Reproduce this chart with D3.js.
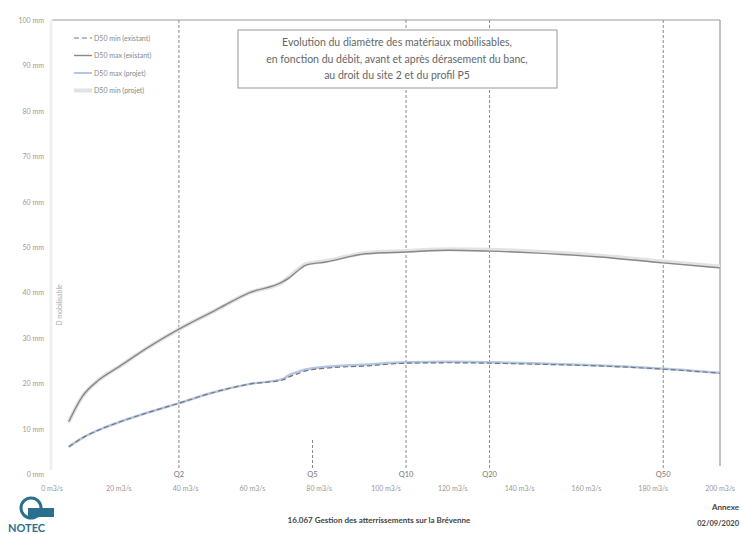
<!DOCTYPE html>
<html>
<head>
<meta charset="utf-8">
<script src="https://cdn.jsdelivr.net/npm/d3@7"></script>
<style>
  body { margin: 0; background: #fff; }
  svg { display: block; font-family: Lato, "Open Sans", sans-serif; }
</style>
</head>
<body>
<div id="chart"></div>
<script>
// debits (m3/s) shared by every curve
var debits = [5, 9, 14, 20, 29, 38, 49, 59, 69, 71, 74, 76, 82, 94, 106, 119, 131, 144, 164, 183, 200];

// D50 (mm)
var maxExistant = [11.5, 17.0, 20.7, 23.6, 28.0, 31.9, 36.1, 39.9, 42.3, 43.2, 45.0, 46.0, 46.7, 48.5, 48.9, 49.3, 49.1, 48.7, 47.8, 46.5, 45.4];
var minProjet   = [11.5, 17.0, 20.7, 23.6, 28.0, 31.9, 36.1, 39.9, 42.3, 43.4, 45.3, 46.2, 46.9, 48.7, 49.1, 49.5, 49.4, 49.0, 48.1, 46.8, 45.7];
var minExistant = [6.0, 7.9, 9.7, 11.4, 13.6, 15.6, 18.1, 19.8, 20.7, 21.4, 22.2, 22.7, 23.3, 23.8, 24.4, 24.5, 24.4, 24.2, 23.8, 23.1, 22.2];
var maxProjet   = [6.0, 7.9, 9.7, 11.4, 13.6, 15.6, 18.1, 19.8, 20.9, 21.8, 22.6, 23.0, 23.6, 24.1, 24.6, 24.7, 24.6, 24.4, 23.9, 23.2, 22.3];

// periodes de retour
var crueNames = ['Q2', 'Q5', 'Q10', 'Q20', 'Q50'];
var crueDebits = [38, 78, 106, 131, 183];

var yTicks = [0, 10, 20, 30, 40, 50, 60, 70, 80, 90, 100];
var xTicks = [0, 20, 40, 60, 80, 100, 120, 140, 160, 180, 200];

var legendLabels = ['D50 min (existant)', 'D50 max (existant)', 'D50 max (projet)', 'D50 min (projet)'];
var titleLines = [
  'Evolution du diamètre des matériaux mobilisables,',
  'en fonction du débit, avant et après dérasement du banc,',
  'au droit du site 2 et du profil P5'
];

var W = 741, H = 534;
var svg = d3.select('#chart').append('svg').attr('width', W).attr('height', H);

var x = d3.scaleLinear().domain([0, 200]).range([52, 720]);
var y = d3.scaleLinear().domain([0, 100]).range([474, 20]);

// plot frame (top and right, faint left)
svg.append('line').attr('x1', x(0)).attr('x2', x(200)).attr('y1', y(100)).attr('y2', y(100))
  .attr('stroke', '#999').attr('stroke-width', 1);
svg.append('line').attr('x1', x(200)).attr('x2', x(200)).attr('y1', y(100)).attr('y2', 466)
  .attr('stroke', '#999').attr('stroke-width', 1.2);
svg.append('line').attr('x1', x(0) - 1).attr('x2', x(0) - 1).attr('y1', y(100)).attr('y2', 470)
  .attr('stroke', '#f0f0f0').attr('stroke-width', 3);

// y labels
svg.selectAll('.ylab').data(yTicks).enter().append('text')
  .attr('x', 44).attr('y', function(d) { return y(d) + 3; })
  .attr('text-anchor', 'end').attr('font-size', 7).attr('fill', '#999')
  .text(function(d) { return d + ' mm'; });

// x labels
svg.selectAll('.xlab').data(xTicks).enter().append('text')
  .attr('x', function(d) { return x(d); }).attr('y', 491)
  .attr('text-anchor', 'middle').attr('font-size', 7).attr('fill', '#999')
  .text(function(d) { return d + ' m3/s'; });

// crue lines
svg.selectAll('.crue').data(crueDebits).enter().append('line')
  .attr('x1', function(d) { return x(d); }).attr('x2', function(d) { return x(d); })
  .attr('y1', function(d, i) { return i == 1 ? 440 : y(100); })
  .attr('y2', 468)
  .attr('stroke', '#8a8a8a').attr('stroke-width', 1).attr('stroke-dasharray', '3,2');

svg.selectAll('.crueLab').data(crueNames).enter().append('text')
  .attr('x', function(d, i) { return x(crueDebits[i]); }).attr('y', 477)
  .attr('text-anchor', 'middle').attr('font-size', 7.5).attr('fill', '#777')
  .text(function(d) { return d; });

// y axis title
svg.append('text').attr('transform', 'translate(62,305) rotate(-90)')
  .attr('text-anchor', 'middle').attr('font-size', 7).attr('fill', '#aaa')
  .text('D mobilisable');

var line = d3.line().curve(d3.curveMonotoneX)
  .x(function(d) { return x(d[0]); })
  .y(function(d) { return y(d[1]); });

function pts(vals) {
  return debits.map(function(d, i) { return [d, vals[i]]; });
}

svg.append('path').attr('d', line(pts(minProjet))).attr('fill', 'none')
  .attr('stroke', '#e2e2e2').attr('stroke-width', 4);
svg.append('path').attr('d', line(pts(maxExistant))).attr('fill', 'none')
  .attr('stroke', '#888').attr('stroke-width', 1.4);
svg.append('path').attr('d', line(pts(maxProjet))).attr('fill', 'none')
  .attr('stroke', '#b3c6e4').attr('stroke-width', 2.5);
svg.append('path').attr('d', line(pts(minExistant))).attr('fill', 'none')
  .attr('stroke', '#777').attr('stroke-width', 1.2).attr('stroke-dasharray', '5,3');

// legend
var legendStyles = [
  { stroke: '#777', w: 1.2, dash: '5,3' },
  { stroke: '#888', w: 1.4, dash: null },
  { stroke: '#b3c6e4', w: 2, dash: null },
  { stroke: '#e2e2e2', w: 4, dash: null }
];
var lg = svg.selectAll('.lg').data(legendLabels).enter().append('g')
  .attr('transform', function(d, i) { return 'translate(72,' + (38 + i * 17.5) + ')'; });
lg.append('line').attr('x1', 2).attr('x2', 20).attr('y1', 0).attr('y2', 0)
  .attr('stroke', function(d, i) { return legendStyles[i].stroke; })
  .attr('stroke-width', function(d, i) { return legendStyles[i].w; })
  .attr('stroke-dasharray', function(d, i) { return legendStyles[i].dash; });
lg.append('text').attr('x', 22).attr('y', 2.5).attr('font-size', 7).attr('fill', '#888')
  .text(function(d) { return d; });

// title box
svg.append('rect').attr('x', 238).attr('y', 30).attr('width', 319).attr('height', 58)
  .attr('fill', '#fff').attr('stroke', '#999').attr('stroke-width', 1);
svg.selectAll('.title').data(titleLines).enter().append('text')
  .attr('x', 397).attr('y', function(d, i) { return 46 + i * 16.5; })
  .attr('text-anchor', 'middle').attr('font-size', 10.5).attr('fill', '#666')
  .text(function(d) { return d; });

// footer
var logo = svg.append('g');
logo.append('circle').attr('cx', 31).attr('cy', 508).attr('r', 10)
  .attr('fill', 'none').attr('stroke', '#2b6f8e').attr('stroke-width', 3);
logo.append('rect').attr('x', 28).attr('y', 508).attr('width', 26).attr('height', 9).attr('fill', '#2b6f8e');
logo.append('text').attr('x', 8).attr('y', 532).attr('font-size', 11).attr('font-weight', 'bold')
  .attr('fill', '#2b6f8e').text('NOTEC');

svg.append('text').attr('x', 379).attr('y', 523).attr('text-anchor', 'middle')
  .attr('font-size', 8).attr('font-weight', 'bold').attr('fill', '#444')
  .text('16.067 Gestion des atterrissements sur la Brévenne');
svg.append('text').attr('x', 739).attr('y', 510).attr('text-anchor', 'end')
  .attr('font-size', 8).attr('font-weight', 'bold').attr('fill', '#444').text('Annexe');
svg.append('text').attr('x', 739).attr('y', 526).attr('text-anchor', 'end')
  .attr('font-size', 7.5).attr('font-weight', 'bold').attr('fill', '#444').text('02/09/2020');
</script>
</body>
</html>
